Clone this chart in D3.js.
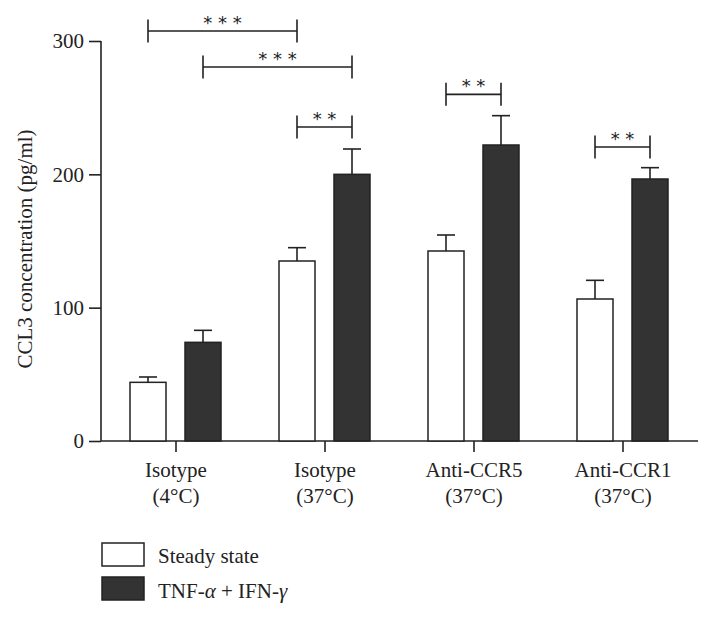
<!DOCTYPE html>
<html><head><meta charset="utf-8">
<script src="https://cdn.jsdelivr.net/npm/d3@7"></script>
<style>body{margin:0;background:#fff}svg{display:block}text{font-family:"Liberation Serif","DejaVu Serif",serif;fill:#222}</style>
</head><body><svg id="c" width="712" height="621"></svg>
<script>
const categories = [["Isotype","(4°C)"],["Isotype","(37°C)"],["Anti-CCR5","(37°C)"],["Anti-CCR1","(37°C)"]];
const seriesNames = ["Steady state","TNF-α + IFN-γ"];
const steady = [44, 135, 142.5, 106.5];
const steadyErr = [4, 10, 12, 14];
const tnf = [74, 200, 222, 196.5];
const tnfErr = [9, 19, 22, 8.5];
const yTicks = [0,100,200,300];
// significance brackets: [group, series] pairs, bracket level in data units
const sig = [
  {a:[0,0], b:[1,0], y:307.5, label:"* * *"},
  {a:[0,1], b:[1,1], y:280.5, label:"* * *"},
  {a:[1,0], b:[1,1], y:235.5, label:"* *"},
  {a:[2,0], b:[2,1], y:260, label:"* *"},
  {a:[3,0], b:[3,1], y:220.5, label:"* *"}
];

const svg = d3.select("#c");
const ink = "#222";
const FS = "21px";
const y = d3.scaleLinear().domain([0,300]).range([441,41]);
const x0 = d3.scaleBand().domain(d3.range(categories.length)).range([101.5,697.5]);
const center = i => x0(i) + x0.bandwidth()/2;
const bw = 36;
const bxx = (g,s) => s===0 ? center(g)-46 : center(g)+9;

// y axis
const yAxis = d3.axisLeft(y).tickValues(yTicks).tickSize(12).tickPadding(5);
const ya = svg.append("g").attr("transform","translate(101,0)").call(yAxis);
ya.select(".domain").attr("stroke",ink).attr("stroke-width",1.6).attr("d","M0,441V41");
ya.selectAll(".tick line").attr("stroke",ink).attr("stroke-width",1.6);
ya.selectAll("text").style("font-size",FS).style("font-family",'"Liberation Serif",serif').attr("fill",ink);

// x axis
svg.append("line").attr("x1",101).attr("x2",698).attr("y1",441).attr("y2",441).attr("stroke",ink).attr("stroke-width",1.6);
categories.forEach((c,i)=>{
  const cx = center(i);
  svg.append("line").attr("x1",cx).attr("x2",cx).attr("y1",441).attr("y2",452).attr("stroke",ink).attr("stroke-width",1.6);
  const t = svg.append("text").attr("text-anchor","middle").style("font-size",FS);
  t.append("tspan").attr("x",cx).attr("y",477).text(c[0]);
  t.append("tspan").attr("x",cx).attr("y",503).text(c[1]);
});

// bars
const series = [{v:steady,e:steadyErr,fill:"#fff"},{v:tnf,e:tnfErr,fill:"#333"}];
series.forEach((s,si)=>{
  const g = svg.append("g");
  g.selectAll(".err").data(s.v).join("g").each(function(d,i){
    const cx = bxx(i,si)+bw/2;
    const sel = d3.select(this);
    sel.append("line").attr("x1",cx).attr("x2",cx).attr("y1",y(d)).attr("y2",y(d+s.e[i])).attr("stroke",ink).attr("stroke-width",1.6);
    sel.append("line").attr("x1",cx-9).attr("x2",cx+9).attr("y1",y(d+s.e[i])).attr("y2",y(d+s.e[i])).attr("stroke",ink).attr("stroke-width",1.6);
  });
  g.selectAll("rect").data(s.v).join("rect")
    .attr("x",(d,i)=>bxx(i,si)).attr("width",bw)
    .attr("y",d=>y(d)).attr("height",d=>y(0)-y(d))
    .attr("fill",s.fill).attr("stroke",ink).attr("stroke-width",1.5);
});

// significance
sig.forEach(s=>{
  const xa = bxx(s.a[0],s.a[1])+bw/2, xb = bxx(s.b[0],s.b[1])+bw/2, yy = y(s.y);
  svg.append("path").attr("d",`M${xa},${yy-11.5}V${yy+11.5}M${xa},${yy}H${xb}M${xb},${yy-11.5}V${yy+11.5}`)
    .attr("fill","none").attr("stroke",ink).attr("stroke-width",1.6);
  svg.append("text").attr("x",(xa+xb)/2).attr("y",yy-2).attr("text-anchor","middle")
    .style("font-size","18px").style("font-family","DejaVu Sans, sans-serif").attr("fill","#555").text(s.label);
});

// y label
svg.append("text").attr("transform","translate(32,249) rotate(-90)").attr("text-anchor","middle")
  .style("font-size",FS).text("CCL3 concentration (pg/ml)");

// legend
const lg = svg.append("g");
lg.append("rect").attr("x",102).attr("y",543).attr("width",42).attr("height",23).attr("fill","#fff").attr("stroke",ink).attr("stroke-width",1.5);
lg.append("rect").attr("x",102).attr("y",577).attr("width",42).attr("height",23).attr("fill","#333").attr("stroke",ink).attr("stroke-width",1.5);
lg.append("text").attr("x",158).attr("y",563).style("font-size",FS).text(seriesNames[0]);
const t2 = lg.append("text").attr("x",158).attr("y",598).style("font-size",FS);
t2.append("tspan").text("TNF-");
t2.append("tspan").style("font-style","italic").text("α");
t2.append("tspan").text(" + IFN-");
t2.append("tspan").style("font-style","italic").text("γ");
</script></body></html>
